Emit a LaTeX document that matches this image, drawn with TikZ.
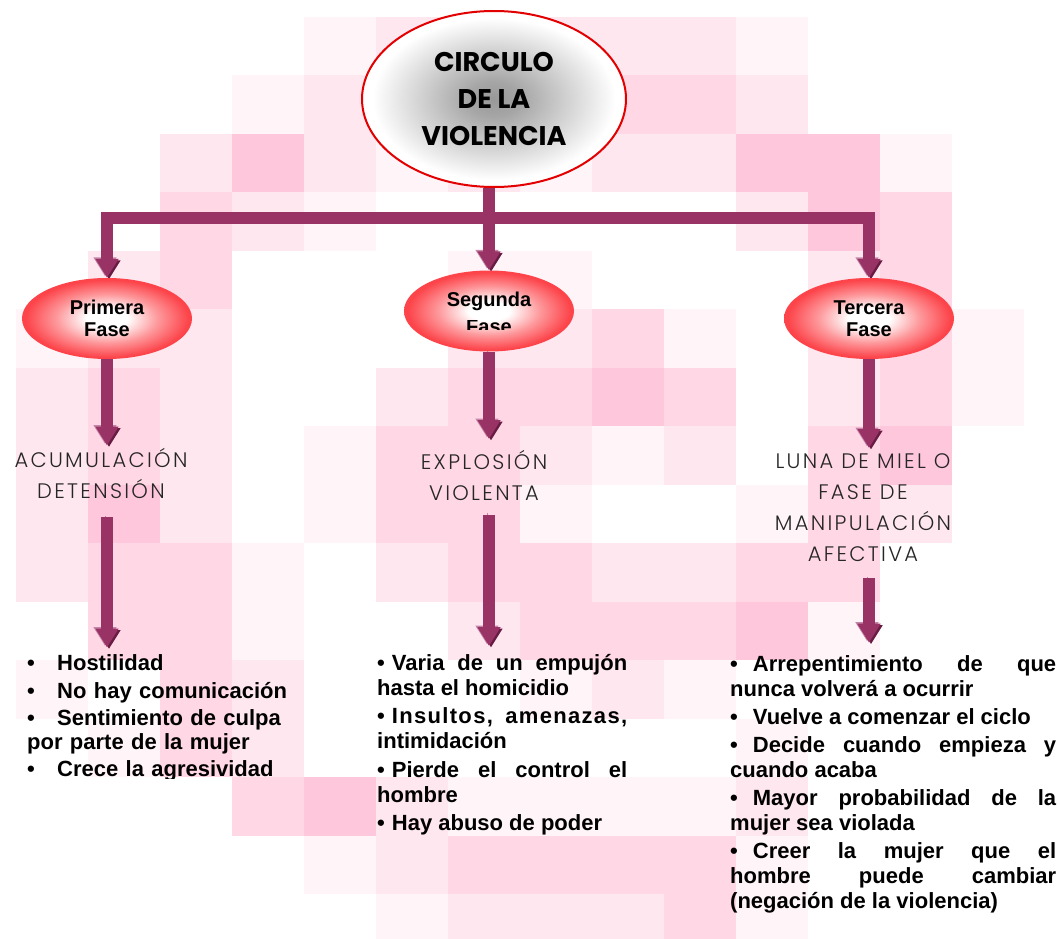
\documentclass[tikz,border=0pt]{standalone}
\usepackage{fontspec}
\setmainfont{Liberation Sans}
\newfontfamily\titlefont{Poppins}
\newfontfamily\handfont{Poppins Light}[LetterSpace=11]
\usepackage{trimclip}
\usepackage{tikz}
\usetikzlibrary{arrows.meta,positioning,shapes.geometric,backgrounds}

\definecolor{arrowmain}{RGB}{153,51,102}
\definecolor{arrowdark}{RGB}{104,28,68}
\definecolor{arrowlight}{RGB}{196,134,168}
\definecolor{ringred}{RGB}{226,0,0}
\definecolor{phasered}{RGB}{252,68,74}
\definecolor{tileA}{RGB}{255,245,249}
\definecolor{tileB}{RGB}{255,231,240}
\definecolor{tileC}{RGB}{255,215,229}
\definecolor{tileD}{RGB}{255,199,219}

\pgfdeclareradialshading{titleglow}{\pgfpoint{0bp}{0bp}}{color(0bp)=(black!40); color(5bp)=(black!35); color(23bp)=(white); color(50bp)=(white)}
\pgfdeclareradialshading{phaseglow}{\pgfpoint{0bp}{0bp}}{color(0bp)=(white); color(6bp)=(white); color(15bp)=(phasered!55!white); color(24bp)=(phasered); color(50bp)=(phasered)}

\begin{document}
\begin{tikzpicture}[x=1pt, y=-1pt,
  titlering/.style={ellipse, draw=ringred, line width=2pt, shade, shading=titleglow, minimum width=264pt, minimum height=176pt, inner sep=0pt, align=center, font=\titlefont\bfseries\fontsize{27}{37}\selectfont},
  phase/.style={ellipse, shade, shading=phaseglow, minimum width=170pt, minimum height=81pt, inner sep=0pt, align=center, font=\bfseries\fontsize{20}{22.5}\selectfont},
  stage/.style={inner sep=0pt, align=center, anchor=north, text=black!85, font=\handfont\fontsize{21}{31}\selectfont},
  items/.style={inner sep=0pt, anchor=north west, align=justify, font=\bfseries\fontsize{22}{25}\selectfont\setlength\parskip{3pt}\setlength\parindent{0pt}},
  bigarrow/.style={line width=12pt, draw=arrowmain, -{Triangle[width=22pt,length=19pt]},
    preaction={draw=arrowlight, transform canvas={shift={(-2pt,1.5pt)}}},
    preaction={draw=arrowdark, transform canvas={shift={(2pt,-1.5pt)}}}}
]
\useasboundingbox (0,0) rectangle (1060,939);

% title and the three phases
\node[titlering] (main) at (494,99) {CIRCULO\\DE LA\\VIOLENCIA};
\node[phase] (fase1) at (107,318.5) {Primera\\Fase};
\node[phase] (fase2) at (489,311) {Segunda\\\clipbox{0pt 4.5pt 0pt 0pt}{Fase}};
\node[phase] (fase3) at (869,318.5) {Tercera\\Fase};

% name of each phase
\node[stage] (stage1) at (101,448.5) {ACUMULACIÓN\\DETENSIÓN};
\node[stage] (stage2) at (484,450) {EXPLOSIÓN\\VIOLENTA};
\node[stage] (stage3) at (863,453) {LUNA DE MIEL O\\FASE DE\\MANIPULACIÓN\\AFECTIVA};

% what happens in each phase
\node[items, align=left, text width=290pt, font=\bfseries\fontsize{22}{23.5}\selectfont\setlength\parskip{4pt}] (list1) at (27,654.5) {%
\makebox[30pt][l]{\textbullet}Hostilidad\par
\makebox[30pt][l]{\textbullet}No hay comunicación\par
\makebox[30pt][l]{\textbullet}Sentimiento de culpa\newline por parte de la mujer\par
\makebox[30pt][l]{\textbullet}\clipbox{0pt 3.3pt 0pt 0pt}{Crece la agresividad}};
\node[items, text width=250pt, font=\bfseries\fontsize{22}{25}\selectfont\setlength\parskip{3.5pt}] (list2) at (377,654) {%
\textbullet\hspace{7pt}Varia de un empujón\linebreak hasta el homicidio\par
\textbullet\hspace{7pt}{\addfontfeature{LetterSpace=6}Insultos, amenazas,}\linebreak intimidación\par
\textbullet\hspace{7pt}Pierde el control el\linebreak hombre\par
\textbullet\hspace{7pt}Hay abuso de poder};
\node[items, text width=326pt] (list3) at (730,655.7) {%
\textbullet\hspace{15pt}Arrepentimiento de que\linebreak nunca volverá a ocurrir\par
\textbullet\hspace{15pt}Vuelve a comenzar el ciclo\par
\textbullet\hspace{15pt}Decide cuando empieza y\linebreak cuando acaba\par
\textbullet\hspace{15pt}Mayor probabilidad de la\linebreak mujer sea violada\par
\textbullet\hspace{15pt}Creer la mujer que el\linebreak hombre puede cambiar\linebreak (negación de la violencia)};

\begin{scope}[on background layer]
  \fill[white] (0,0) rectangle (1060,939);
  % pink mosaic behind the chart
  \foreach \c/\r/\t in {4/0/A, 5/0/B, 6/0/B, 7/0/B, 8/0/B, 9/0/B, 10/0/A,
      3/1/A, 4/1/B, 5/1/A, 6/1/B, 7/1/B, 8/1/C, 9/1/C, 10/1/B,
      2/2/B, 3/2/D, 4/2/B, 5/2/A, 6/2/B, 7/2/A, 8/2/B, 9/2/B, 10/2/D, 11/2/D, 12/2/A,
      2/3/C, 3/3/B, 4/3/A, 10/3/B, 11/3/D, 12/3/C,
      1/4/B, 2/4/C, 6/4/A, 7/4/A, 11/4/B, 12/4/C,
      0/5/A, 1/5/B, 2/5/B, 6/5/B, 7/5/B, 8/5/C, 9/5/A, 11/5/B, 12/5/C, 13/5/A,
      0/6/B, 1/6/C, 2/6/B, 5/6/B, 6/6/C, 7/6/C, 8/6/D, 9/6/C, 11/6/B, 12/6/C, 13/6/A,
      0/7/B, 1/7/C, 2/7/B, 4/7/A, 5/7/C, 6/7/C, 7/7/B, 8/7/A, 9/7/B, 11/7/C, 12/7/D,
      0/8/B, 1/8/D, 2/8/B, 4/8/A, 5/8/C, 6/8/C, 7/8/A, 10/8/A, 11/8/C, 12/8/B,
      0/9/B, 1/9/C, 2/9/C, 3/9/A, 5/9/B, 6/9/C, 7/9/C, 8/9/B, 9/9/B, 10/9/C, 11/9/C,
      1/10/C, 2/10/C, 3/10/A, 6/10/B, 7/10/C, 8/10/C, 9/10/C, 10/10/D, 11/10/A,
      0/11/A, 2/11/C, 3/11/B, 7/11/A, 8/11/B, 9/11/A,
      1/12/A, 2/12/C, 3/12/B, 10/12/A,
      3/13/C, 4/13/D, 5/13/B, 6/13/A, 7/13/A, 8/13/A, 9/13/A, 10/13/B,
      4/14/A, 5/14/B, 6/14/C, 7/14/C, 8/14/C, 9/14/C, 10/14/A,
      5/15/A, 6/15/B, 7/15/B, 8/15/B, 9/15/C, 10/15/A}
    \fill[fill=tile\t] ({15.9+72*\c},{16.9+58.5*\r}) rectangle ++(72,58.5);

  % arrows
  \coordinate (bar) at (489,218);
  \draw[bigarrow, {Triangle[width=22pt,length=19pt]}-{Triangle[width=22pt,length=19pt]}]
    (fase1.north) |- (bar) -| (fase3.north);
  \draw[bigarrow] (fase2.north |- main.south) -- (fase2.north);
  \draw[bigarrow, shorten >=3pt] (fase1.south) -- (fase1.south |- stage1.north);
  \draw[bigarrow, shorten >=11pt] (fase2.south) -- (fase2.south |- stage2.north);
  \draw[bigarrow, shorten >=5pt] (fase3.south) -- (fase3.south |- stage3.north);
  \draw[bigarrow, shorten <=18pt, shorten >=7pt] (fase1.south |- stage1.south) -- (fase1.south |- list1.north);
  \draw[bigarrow, shorten <=14pt, shorten >=8pt] (fase2.south |- stage2.south) -- (fase2.south |- list2.north);
  \draw[bigarrow, shorten <=17pt, shorten >=13pt] (fase3.south |- stage3.south) -- (fase3.south |- list3.north);
\end{scope}
\end{tikzpicture}
\end{document}
